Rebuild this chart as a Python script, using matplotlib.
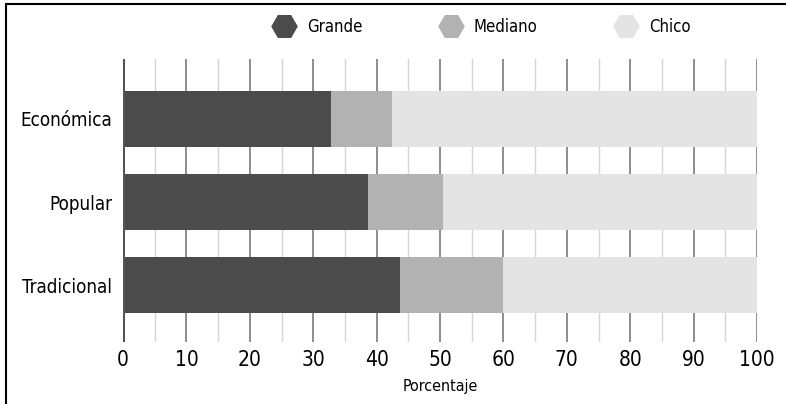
import matplotlib
matplotlib.use("Agg")
import matplotlib.pyplot as plt
from matplotlib.lines import Line2D
import numpy as np

categories = ["Tradicional", "Popular", "Económica"]
grande = [43.7, 38.6, 32.8]
mediano = [16.2, 11.9, 9.6]
chico = [40.1, 49.5, 57.6]
series_names = ["Grande", "Mediano", "Chico"]
colors = ["#4b4b4b", "#b2b2b2", "#e4e4e4"]
xticks = [0, 10, 20, 30, 40, 50, 60, 70, 80, 90, 100]

plt.rcParams['font.family'] = ['DejaVu Sans']
FS = dict(family='DejaVu Sans', stretch='condensed')

fig = plt.figure(figsize=(7.86, 4.04), dpi=100)
ax = fig.add_axes([123/786, (404-342)/404, (757-123)/786, (342-59)/404])

y = np.arange(len(categories))
left = np.zeros(len(categories))
for vals, c in zip([grande, mediano, chico], colors):
    ax.barh(y, vals, left=left, height=0.675, color=c, zorder=3)
    left = left + np.array(vals)

ax.set_xlim(0, 100)
ax.set_ylim(-0.68, 2.72)
for x in np.arange(5, 100, 10):
    ax.axvline(x, color="#d4d4d4", lw=1.0, zorder=1)
for x in xticks[1:]:
    ax.axvline(x, color="#7a7a7a", lw=1.2, zorder=1)
ax.axvline(0, color="#555555", lw=2.2, zorder=4)

for s in ax.spines.values():
    s.set_visible(False)
ax.set_xticks(xticks)
ax.set_xticklabels([str(t) for t in xticks], fontsize=15, **FS)
ax.set_yticks(y)
ax.set_yticklabels(categories, fontsize=13.5, **FS)
ax.tick_params(axis='both', length=0)
ax.tick_params(axis='x', pad=6)
ax.tick_params(axis='y', pad=8)
ax.set_xlabel("Porcentaje", fontsize=11.5, labelpad=6, **FS)

handles = [Line2D([], [], marker='H', ls='none', markersize=18, color=c,
                  markeredgecolor=c) for c in colors]
leg = fig.legend(handles, series_names, loc='center', bbox_to_anchor=(479/786, 1-27/404),
                 ncol=3, frameon=False, columnspacing=4.3, handletextpad=0.4,
                 prop=dict(family='DejaVu Sans', stretch='condensed', size=12))

fig.add_artist(Line2D([6/786, 1], [1-4/404, 1-4/404], color='black', lw=1.5))
fig.add_artist(Line2D([6/786, 6/786], [0, 1-4/404], color='black', lw=1.5))

fig.savefig("out.png", dpi=100)
